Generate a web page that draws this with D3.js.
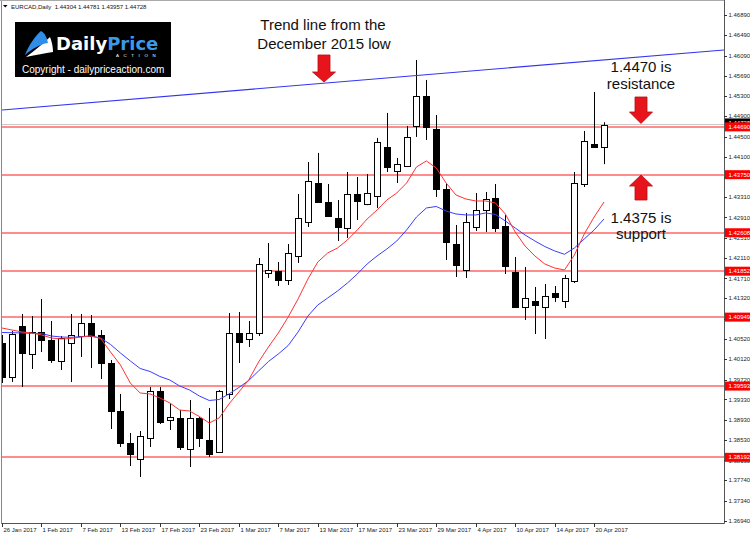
<!DOCTYPE html>
<html><head><meta charset="utf-8">
<script src="https://cdn.jsdelivr.net/npm/d3@7"></script>
<style>body{margin:0;background:#fff}svg{display:block}</style>
</head><body>
<svg id="c" width="750" height="537"></svg>
<script>
const dates = ["2017-01-26","2017-01-27","2017-01-30","2017-01-31",
"2017-02-01","2017-02-02","2017-02-03","2017-02-06","2017-02-07","2017-02-08","2017-02-09","2017-02-10",
"2017-02-13","2017-02-14","2017-02-15","2017-02-16","2017-02-17","2017-02-20","2017-02-21","2017-02-22",
"2017-02-23","2017-02-24","2017-02-27","2017-02-28",
"2017-03-01","2017-03-02","2017-03-03","2017-03-06","2017-03-07","2017-03-08","2017-03-09","2017-03-10",
"2017-03-13","2017-03-14","2017-03-15","2017-03-16","2017-03-17","2017-03-20","2017-03-21","2017-03-22",
"2017-03-23","2017-03-24","2017-03-27","2017-03-28","2017-03-29","2017-03-30","2017-03-31",
"2017-04-03","2017-04-04","2017-04-05","2017-04-06","2017-04-07","2017-04-10","2017-04-11","2017-04-12",
"2017-04-13","2017-04-14","2017-04-17","2017-04-18","2017-04-19","2017-04-20","2017-04-21"];

const open = [1.40440,1.39772,1.40775,1.40224,1.40657,1.40499,1.40087,1.40440,1.40578,1.40834,
1.40598,1.40047,1.39103,1.38474,1.38159,1.38572,1.39497,1.38926,1.38966,1.38356,
1.38966,1.38533,1.38297,1.39438,1.40637,1.40519,1.40637,1.41817,1.41856,1.41679,
1.42151,1.42820,1.43587,1.43213,1.42899,1.42702,1.43371,1.43174,1.43331,1.44295,
1.43823,1.43921,1.44708,1.45298,1.44649,1.43469,1.42387,1.41876,1.42722,1.43056,
1.43292,1.42741,1.41837,1.41148,1.41266,1.41148,1.41424,1.41266,1.41660,1.43567,
1.44354,1.44304];
const high = [1.40598,1.40676,1.41011,1.40971,1.41306,1.40873,1.40578,1.41011,1.41011,1.40991,
1.40696,1.40106,1.39438,1.38671,1.38710,1.39575,1.39575,1.39261,1.39123,1.39320,
1.38985,1.39162,1.39516,1.41030,1.41050,1.40873,1.42112,1.42407,1.42033,1.42387,
1.43371,1.44000,1.44177,1.43567,1.43253,1.43803,1.43705,1.43764,1.44472,1.44964,
1.44079,1.44708,1.46006,1.45613,1.44924,1.43567,1.42761,1.42997,1.43390,1.43410,
1.43567,1.42958,1.42132,1.41935,1.41542,1.41601,1.41561,1.41778,1.43803,1.44610,
1.45377,1.44781];
const low = [1.39654,1.39674,1.39575,1.39929,1.40263,1.40047,1.39910,1.39674,1.40165,1.39949,
1.39733,1.38749,1.38395,1.38022,1.37805,1.38395,1.38848,1.38730,1.38336,1.38002,
1.38395,1.38199,1.38280,1.39339,1.40047,1.40362,1.40578,1.41719,1.41561,1.41581,
1.42014,1.42722,1.43194,1.42918,1.42446,1.42505,1.42859,1.43150,1.43095,1.43803,
1.43587,1.43900,1.44492,1.44433,1.43312,1.42073,1.41738,1.41719,1.42643,1.42623,
1.42623,1.41797,1.41130,1.40893,1.40617,1.40519,1.41247,1.41129,1.41620,1.43508,
1.44295,1.43957];
const close = [1.39772,1.40617,1.40244,1.40657,1.40499,1.40106,1.40539,1.40598,1.40834,1.40578,
1.40047,1.39103,1.38474,1.38258,1.38612,1.39497,1.38887,1.38985,1.38395,1.38966,
1.38572,1.38258,1.39497,1.40637,1.40460,1.40637,1.41994,1.41876,1.41679,1.42210,
1.42899,1.43626,1.43213,1.42938,1.42722,1.43371,1.43233,1.43390,1.44393,1.43902,
1.43961,1.44492,1.45298,1.44688,1.43469,1.42427,1.41974,1.42820,1.43056,1.43272,
1.42702,1.41955,1.41148,1.41325,1.41188,1.41365,1.41345,1.41719,1.43587,1.44413,
1.44301,1.44728];

const maFast = [1.40735,1.40696,1.40657,1.40637,1.40598,1.40539,1.40519,1.40529,1.40558,1.40578,
1.40529,1.40263,1.40008,1.39654,1.39457,1.39438,1.39359,1.39261,1.39123,1.39103,
1.38995,1.38867,1.38966,1.39241,1.39477,1.39713,1.40067,1.40362,1.40637,1.40952,
1.41306,1.41699,1.42033,1.42210,1.42309,1.42466,1.42663,1.42879,1.43056,1.43253,
1.43390,1.43587,1.43902,1.44020,1.43882,1.43587,1.43351,1.43272,1.43233,1.43233,
1.43194,1.42977,1.42623,1.42348,1.42151,1.41994,1.41915,1.41876,1.42171,1.42584,
1.42918,1.43213];
const maSlow = [1.40647,1.40643,1.40637,1.40631,1.40627,1.40578,1.40558,1.40552,1.40564,1.40578,
1.40539,1.40411,1.40244,1.40087,1.39939,1.39880,1.39782,1.39713,1.39595,1.39516,
1.39398,1.39310,1.39329,1.39438,1.39565,1.39703,1.39890,1.40077,1.40224,1.40391,
1.40657,1.40971,1.41188,1.41325,1.41463,1.41620,1.41797,1.41994,1.42151,1.42289,
1.42446,1.42663,1.42918,1.43095,1.43125,1.43036,1.42977,1.42958,1.42958,1.42997,
1.42968,1.42840,1.42702,1.42564,1.42446,1.42338,1.42250,1.42185,1.42309,1.42486,
1.42663,1.42879];

const levels = [1.44690, 1.43750, 1.42608, 1.41852, 1.40949, 1.39593, 1.38192];
const levelLabels = ["1.44690","1.43750","1.42608","1.41852","1.40949","1.39593","1.38192"];
const lastPrice = 1.44728;
const trendIdx = [0, 73.15];
const trendVal = [1.45023, 1.46203];
const priceTicks = [1.46890,1.46490,1.46090,1.45690,1.45300,1.44900,1.44500,1.44100,1.43710,1.43310,
1.42910,1.42510,1.42110,1.41710,1.41320,1.40920,1.40520,1.40120,1.39720,1.39330,
1.38930,1.38530,1.38130,1.37740,1.37340,1.36940];
const dateTickIdx = [0,4,8,12,16,20,24,28,32,36,40,44,48,52,56,60];
const headerText = "EURCAD,Daily  1.44304 1.44781 1.43957 1.44728";

const svg = d3.select("#c");
const L = 2, R = 724, T = 2, B = 523;
const x = d3.scaleLinear().domain([0, 61]).range([2, 604]);
const y = d3.scaleLinear().domain([1.3694, 1.4689]).range([521, 15]);
const px = v => Math.round(v) + 0.5;

svg.append("rect").attr("width",750).attr("height",537).attr("fill","#fff");
svg.append("defs").append("clipPath").attr("id","pc")
  .append("rect").attr("x",L).attr("y",T).attr("width",R-L).attr("height",B-T);
const g = svg.append("g").attr("clip-path","url(#pc)");

// current price line
g.append("line").attr("x1",L).attr("x2",R).attr("y1",px(y(lastPrice))-1).attr("y2",px(y(lastPrice))-1)
  .attr("stroke","#c8c8c8").attr("stroke-width",1);
// levels
g.selectAll("line.lvl").data(levels).join("line").attr("class","lvl")
  .attr("x1",L).attr("x2",R).attr("y1",d=>Math.round(y(d))).attr("y2",d=>Math.round(y(d)))
  .attr("stroke","#ff1a1a").attr("stroke-width",1);

// candles
const idx = d3.range(dates.length);
g.selectAll("line.wick").data(idx).join("line").attr("class","wick")
  .attr("x1",i=>px(x(i))).attr("x2",i=>px(x(i)))
  .attr("y1",i=>y(high[i])).attr("y2",i=>y(low[i]))
  .attr("stroke","#000").attr("stroke-width",1);
g.selectAll("rect.body").data(idx).join("rect").attr("class","body")
  .attr("x",i=>Math.round(x(i))-2.5).attr("width",6)
  .attr("y",i=>Math.round(y(Math.max(open[i],close[i])))+0.5)
  .attr("height",i=>Math.max(1, Math.round(Math.abs(y(open[i])-y(close[i])))))
  .attr("fill",i=>close[i]>=open[i]?"#fff":"#000")
  .attr("stroke","#000").attr("stroke-width",1);

// moving averages
const lineGen = arr => d3.line().x((d,i)=>x(i)).y(d=>y(d))(arr);
g.append("path").attr("d",lineGen(maSlow)).attr("fill","none").attr("stroke","#3c3cff").attr("stroke-width",1);
g.append("path").attr("d",lineGen(maFast)).attr("fill","none").attr("stroke","#ff3232").attr("stroke-width",1);

// trend line
g.append("line").attr("x1",x(trendIdx[0])).attr("x2",x(trendIdx[1]))
  .attr("y1",y(trendVal[0])).attr("y2",y(trendVal[1]))
  .attr("stroke","#3434f0").attr("stroke-width",1.1);

// frame
svg.append("line").attr("x1",1.5).attr("x2",1.5).attr("y1",0).attr("y2",B+0.5).attr("stroke","#888");
svg.append("line").attr("x1",0).attr("x2",R+0.5).attr("y1",0.5).attr("y2",0.5).attr("stroke","#aaa");
svg.append("line").attr("x1",R+0.5).attr("x2",R+0.5).attr("y1",0).attr("y2",B+0.5).attr("stroke","#555");
svg.append("line").attr("x1",1.5).attr("x2",R+0.5).attr("y1",B+0.5).attr("y2",B+0.5).attr("stroke","#555");

const font = "'Liberation Sans', Arial, sans-serif";
// price axis
const ax = svg.append("g");
ax.selectAll("line").data(priceTicks).join("line")
  .attr("x1",R).attr("x2",R+3).attr("y1",d=>px(y(d))).attr("y2",d=>px(y(d))).attr("stroke","#333");
ax.selectAll("text").data(priceTicks).join("text")
  .attr("x",R+4.5).attr("y",d=>y(d)).attr("dy","0.35em")
  .attr("font-family",font).attr("font-size",6).attr("fill","#222")
  .text(d=>d.toFixed(5));

// current price label
svg.append("rect").attr("x",R+1).attr("y",y(lastPrice)-6.5).attr("width",26).attr("height",9).attr("fill","#000");
svg.append("text").attr("x",R+4.5).attr("y",y(lastPrice)-2).attr("dy","0.35em")
  .attr("font-family",font).attr("font-size",6).attr("fill","#fff").text(lastPrice.toFixed(5));
// level labels
const ll = svg.append("g");
ll.selectAll("rect").data(levels).join("rect")
  .attr("x",R+1).attr("y",d=>y(d)-4.5).attr("width",26).attr("height",9).attr("fill","#ff0000");
ll.selectAll("text").data(levels).join("text")
  .attr("x",R+4.5).attr("y",d=>y(d)).attr("dy","0.35em")
  .attr("font-family",font).attr("font-size",6).attr("fill","#fff")
  .text((d,i)=>levelLabels[i]);

// date axis
const fmt = d3.timeFormat("%-d %b %Y");
const parse = d3.timeParse("%Y-%m-%d");
const dx = svg.append("g");
dx.selectAll("line").data(dateTickIdx).join("line")
  .attr("x1",i=>px(x(i))).attr("x2",i=>px(x(i))).attr("y1",B).attr("y2",B+4).attr("stroke","#333");
dx.selectAll("text").data(dateTickIdx).join("text")
  .attr("x",i=>Math.round(x(i))+1.5).attr("y",532)
  .attr("font-family",font).attr("font-size",6).attr("fill","#222")
  .text(i=>fmt(parse(dates[i])));

// header
svg.append("path").attr("d","M3,5 L7.5,5 L5.25,7.5 Z").attr("fill","#000");
svg.append("text").attr("x",11).attr("y",8.5).attr("font-family",font).attr("font-size",6)
  .attr("fill","#111").attr("xml:space","preserve").style("white-space","pre").text(headerText);

// logo
const lg = svg.append("g");
lg.append("rect").attr("x",15).attr("y",22).attr("width",156).attr("height",55).attr("fill","#000");
lg.append("path").attr("d","M26,57 C35,50 43,44 50,37 C52,42 53,47 53,52 C45,53 36,55 26,57 Z").attr("fill","#fff");
lg.append("path").attr("d","M25,55 C29,45 35,36 41,31 C45,33 47,38 48,43 C40,44 32,49 25,55 Z").attr("fill","#2f8fe8");
const lt = lg.append("text").attr("x",56).attr("y",49.5).attr("font-family","'DejaVu Sans', sans-serif")
  .attr("font-weight","bold").attr("font-size",18);
lt.append("tspan").attr("fill","#fff").text("Daily");
lt.append("tspan").attr("fill","#3a9ae8").text("Price");
lg.append("text").attr("x",116).attr("y",56.5).attr("font-family",font).attr("font-size",4.4)
  .attr("letter-spacing",4.6).attr("fill","#fff").text("ACTION");
lg.append("text").attr("x",22).attr("y",72.5).attr("font-family",font).attr("font-size",10)
  .attr("fill","#fff").text("Copyright - dailypriceaction.com");

// annotations
const notes = [
  {t:"Trend line from the", x:323, y:30},
  {t:"December 2015 low", x:324, y:49},
  {t:"1.4470 is", x:641, y:72},
  {t:"resistance", x:641, y:88.5},
  {t:"1.4375 is", x:641, y:223},
  {t:"support", x:641, y:239}
];
svg.selectAll("text.note").data(notes).join("text").attr("class","note")
  .attr("x",d=>d.x).attr("y",d=>d.y).attr("text-anchor","middle")
  .attr("font-family",font).attr("font-size",15).attr("fill","#111").text(d=>d.t);

function arrow(cx, tail, base, tip){
  const s = 6, h = 11.5;
  return `M${cx-s},${tail} L${cx+s},${tail} L${cx+s},${base} L${cx+h},${base} L${cx},${tip} L${cx-h},${base} L${cx-s},${base} Z`;
}
const arrows = [arrow(324,55,72,82), arrow(641,97,112,123.5), arrow(641,200,186,175)];
svg.selectAll("path.arr").data(arrows).join("path").attr("class","arr")
  .attr("d",d=>d).attr("fill","#e8141c").attr("stroke","#b50d10").attr("stroke-width",0.8);
</script>
</body></html>
